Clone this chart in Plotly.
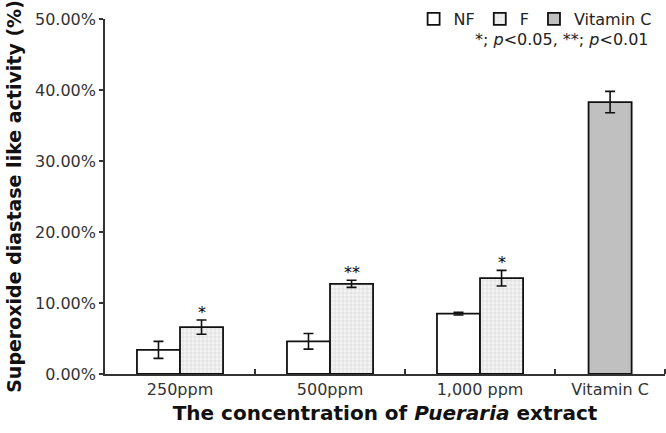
import plotly.graph_objects as go

categories = ["250ppm", "500ppm", "1,000 ppm"]
nf_vals = [0.034, 0.046, 0.085]
nf_err = [0.012, 0.011, 0.002]
f_vals = [0.066, 0.127, 0.135]
f_err = [0.010, 0.005, 0.011]
f_sig = ["*", "**", "*"]
vitc_label = ["Vitamin C"]
vitc_vals = [0.383]
vitc_err = [0.015]

centers = [0.5, 1.5, 2.5]
vitc_center = [3.367]
x_end = 3.733
bw = 0.287

font = "DejaVu Sans, Liberation Sans, Arial, sans-serif"

fig = go.Figure()
fig.add_trace(go.Bar(
    name="NF", x=centers, y=nf_vals, width=bw, offset=-bw,
    marker=dict(color="white", line=dict(color="#111", width=1.8)),
    error_y=dict(type="data", array=nf_err, color="#111", thickness=1.6, width=5),
))
fig.add_trace(go.Bar(
    name="F", x=centers, y=f_vals, width=bw, offset=0,
    marker=dict(color="white", line=dict(color="#111", width=1.8),
                pattern=dict(shape="+", size=4, solidity=0.25, fgcolor="#b0b0b0", bgcolor="#f4f4f4")),
    error_y=dict(type="data", array=f_err, color="#111", thickness=1.6, width=5),
))
fig.add_trace(go.Bar(
    name="Vitamin C", x=vitc_center, y=vitc_vals, width=bw, offset=-bw / 2,
    marker=dict(color="#c0c0c0", line=dict(color="#111", width=1.8)),
    error_y=dict(type="data", array=vitc_err, color="#111", thickness=1.6, width=5),
))

for c, v, e, s in zip(centers, f_vals, f_err, f_sig):
    fig.add_annotation(x=c + bw / 2, y=v + e, text=s, showarrow=False,
                       yanchor="bottom", yshift=-4, font=dict(family=font, size=16, color="#000"))

fig.add_annotation(xref="paper", yref="paper", x=0.975, y=1.0, xanchor="right", yanchor="middle",
                   yshift=-20,
                   text="*; <i>p</i><0.05, **; <i>p</i><0.01", showarrow=False,
                   font=dict(family=font, size=16, color="#222"))

fig.update_layout(
    width=666, height=433,
    margin=dict(l=105, r=1, t=19, b=59, autoexpand=False),
    paper_bgcolor="white", plot_bgcolor="white",
    barmode="overlay",
    showlegend=True,
    legend=dict(orientation="h", x=0.985, xanchor="right", y=1.0, yanchor="middle",
                font=dict(family=font, size=16, color="#222"), bgcolor="rgba(0,0,0,0)",
                itemwidth=30, traceorder="normal", tracegroupgap=0),
    font=dict(family=font, color="#333"),
)
fig.update_xaxes(
    range=[0, x_end], showgrid=False, zeroline=False,
    showline=True, linecolor="#333", linewidth=1.6,
    tickmode="array", tickvals=centers + vitc_center, ticktext=categories + vitc_label,
    ticks="", tickfont=dict(family=font, size=16, color="#333"),
    minor=dict(tickmode="array", tickvals=[1, 2, 3, x_end], ticks="inside", ticklen=5,
               tickwidth=1.5, tickcolor="#333", showgrid=False),
    title=dict(text="<b>The concentration of <i>Pueraria</i> extract</b>",
               font=dict(family=font, size=20, color="#111"), standoff=8),
)
fig.update_yaxes(
    range=[0, 0.5], showgrid=False, zeroline=False,
    showline=True, linecolor="#333", linewidth=1.6,
    tickmode="array", tickvals=[0, 0.1, 0.2, 0.3, 0.4, 0.5], tickformat=".2%",
    ticks="outside", ticklen=4, tickwidth=1.5, tickcolor="#333",
    tickfont=dict(family=font, size=16, color="#333"),
    title=dict(text="<b>Superoxide diastase like activity (%)</b>",
               font=dict(family=font, size=19, color="#111"), standoff=8),
)

fig.write_html("out.html")
